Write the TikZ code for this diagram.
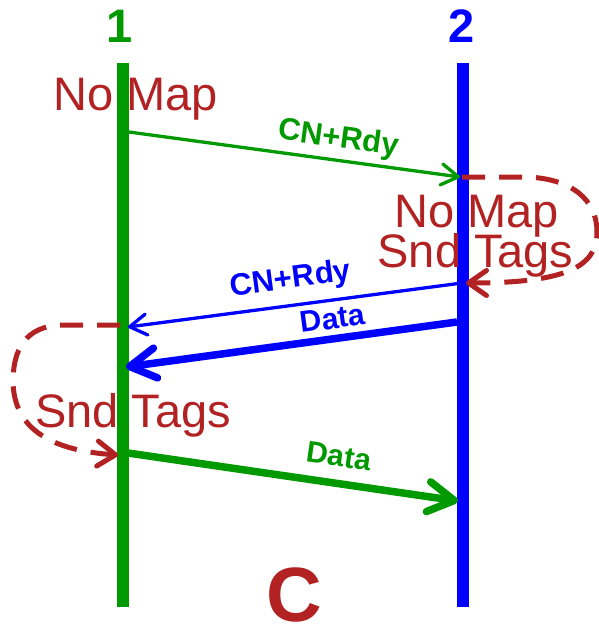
\documentclass[tikz,border=0pt]{standalone}
\usepackage{fontspec}
\setmainfont{Liberation Sans}
\usetikzlibrary{arrows.meta}
\definecolor{lgreen}{RGB}{0,153,0}
\definecolor{lblue}{RGB}{0,0,255}
\definecolor{lred}{RGB}{178,34,34}
\begin{document}
\begin{tikzpicture}[x=1pt,y=-1pt,
  lifeline/.style={line width=12pt},
  msg/.style={line width=3.3pt, -{Straight Barb[length=17pt,width=21pt,round]}},
  bigmsg/.style={line width=7.5pt, -{Straight Barb[length=26pt,width=30pt,round]}},
  loopline/.style={lred, line width=5pt, dash pattern=on 23pt off 14pt,
    -{Straight Barb[length=18pt,width=25pt,round]}},
  msglabel/.style={font=\bfseries\fontsize{31}{31}\selectfont, sloped, inner sep=0pt},
  datalabel/.style={font=\bfseries\fontsize{30}{30}\selectfont, sloped, inner sep=0pt},
  state/.style={lred, font=\fontsize{47}{47}\selectfont, inner sep=0pt, anchor=base},
  head/.style={font=\bfseries\fontsize{47}{47}\selectfont, inner sep=0pt, anchor=base},
]
\useasboundingbox (0,0) rectangle (599,624);

% lifelines
\coordinate (g top) at (123,63);
\coordinate (g bot) at (123,607);
\coordinate (b top) at (463,63);
\coordinate (b bot) at (463,607);
\draw[lifeline, lgreen] (g top) -- (g bot);
\draw[lifeline, lblue] (b top) -- (b bot);

\node[head, lgreen] (one) at (120,42) {1};
\node[head, lblue] (two) at (462,42) {2};

% message points on the lifelines
\coordinate (g1) at (129,132);
\coordinate (b1) at (460,177);
\coordinate (b1r) at (462,177);
\coordinate (b2) at (462,283);
\coordinate (b2r) at (466,283);
\coordinate (g2) at (128,327);
\coordinate (g2l) at (120,325);
\coordinate (b3) at (457,322);
\coordinate (g3) at (126,367);
\coordinate (g4) at (128,453);
\coordinate (g4l) at (118,455);
\coordinate (b4) at (458,501);

% messages
\draw[msg, lgreen] (g1) -- node[msglabel, pos=0.625, above=5pt] {CN+Rdy} (b1);
\draw[msg, lblue] (b2) -- node[msglabel, pos=0.503, above=9pt] {CN+Rdy} (g2);
\draw[bigmsg, lblue] (b3) -- node[datalabel, pos=0.367, above=6pt] {Data} (g3);
\draw[bigmsg, lgreen] (g4) -- node[datalabel, pos=0.627, above=13pt] {Data} (b4);

% local processing loops
\draw[loopline] (b1r) -- (525,177)
  .. controls (572,178) and (597,200) .. (597,232)
  .. controls (597,266) and (568,283) .. (b2r);
\draw[loopline] (g2l) -- (62,325)
  .. controls (25,326) and (13,350) .. (13,382)
  .. controls (14,425) and (45,450) .. (g4l);

% states
\node[state] (nomap1) at (135.5,110) {No Map};
\node[state] (nomap2) at (476.5,227) {No Map};
\node[state] (snd2) at (475.5,267) {Snd Tags};
\node[state] (snd1) at (133,427) {Snd Tags};

\node[lred, font=\bfseries\fontsize{77}{77}\selectfont, inner sep=0pt, anchor=base] (cap) at (294,621) {C};
\end{tikzpicture}
\end{document}
